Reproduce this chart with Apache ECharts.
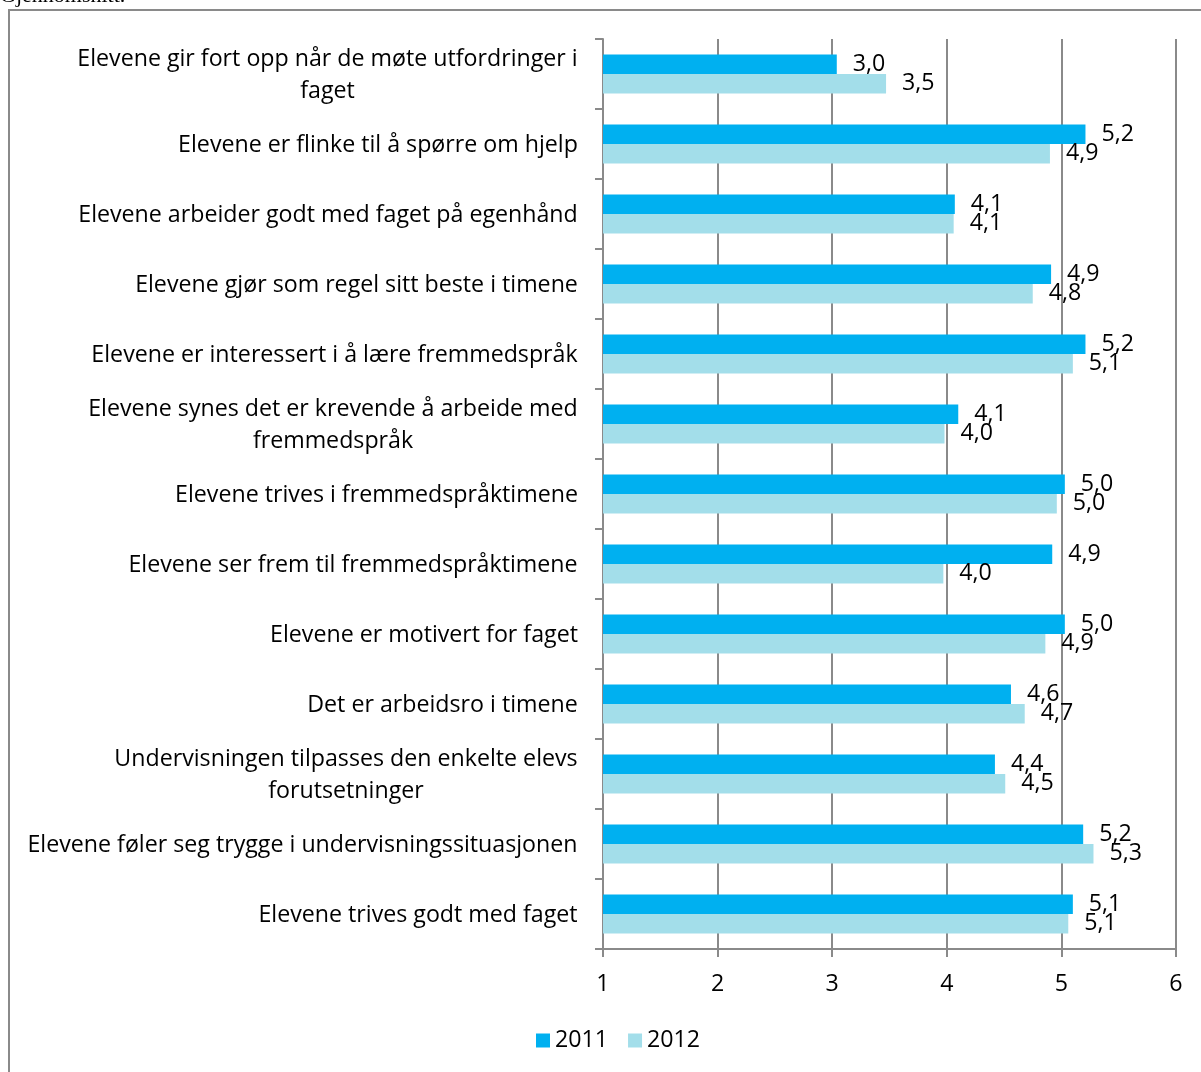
<!DOCTYPE html>
<html lang="no">
<head>
<meta charset="utf-8">
<title>Gjennomsnitt</title>
<script src="https://cdn.jsdelivr.net/npm/echarts@6/dist/echarts.min.js"></script>
<style>
    html, body { margin: 0; padding: 0; background: #fff; }
    #chart { width: 1201px; height: 1072px; }
</style>
</head>
<body>
<div id="chart"></div>
<script>
// categories, top to bottom
var categories = [
    'Elevene gir fort opp når de møte utfordringer i\nfaget',
    'Elevene er flinke til å spørre om hjelp',
    'Elevene arbeider godt med faget på egenhånd',
    'Elevene gjør som regel sitt beste i timene',
    'Elevene er interessert i å lære fremmedspråk',
    'Elevene synes det er krevende å arbeide med\nfremmedspråk',
    'Elevene trives i fremmedspråktimene',
    'Elevene ser frem til fremmedspråktimene',
    'Elevene er motivert for faget',
    'Det er arbeidsro i timene',
    'Undervisningen tilpasses den enkelte elevs\nforutsetninger',
    'Elevene føler seg trygge i undervisningssituasjonen',
    'Elevene trives godt med faget'
];
var values2011 = [3.04, 5.21, 4.07, 4.91, 5.21, 4.10, 5.03, 4.92, 5.03, 4.56, 4.42, 5.19, 5.10];
var values2012 = [3.47, 4.90, 4.06, 4.75, 5.10, 3.98, 4.96, 3.97, 4.86, 4.68, 4.51, 5.28, 5.06];
var seriesNames = ['2011', '2012'];
var xMin = 1, xMax = 6, xStep = 1;

var fontFamily = 'Open Sans';
var fontSize = 23.2;
var gray = '#8a8a8a';

// measure lines so multi-line labels are centred as a block, right aligned to the axis
var ctx = document.createElement('canvas').getContext('2d');
ctx.font = fontSize + 'px "' + fontFamily + '"';
var rich = {};
categories.forEach(function (c, i) {
    var w = Math.max.apply(null, c.split('\n').map(function (l) { return ctx.measureText(l).width; }));
    rich['c' + i] = {
        width: Math.ceil(w), align: 'center', fontSize: fontSize,
        fontFamily: fontFamily, lineHeight: 32, color: '#000',
        padding: [2, 0, 0, 0]
    };
});

function fmt(v) {
    return v.toFixed(1).replace('.', ',');
}

var chart = echarts.init(document.getElementById('chart'));
chart.setOption({
    animation: false,
    backgroundColor: '#fff',
    textStyle: { fontFamily: fontFamily },
    graphic: [
        {
            type: 'rect',
            shape: { x: 9, y: 10, width: 1400, height: 1300 },
            style: { fill: 'none', stroke: gray, lineWidth: 2 }
        },
        {
            type: 'text',
            x: 0, y: 7,
            style: {
                text: 'Gjennomsnitt.', font: '22px "Liberation Serif"',
                fill: '#000', verticalAlign: 'bottom'
            }
        }
    ],
    legend: {
        data: seriesNames,
        left: 531,
        top: 1024,
        itemWidth: 14,
        itemHeight: 14,
        itemGap: 20,
        icon: 'rect',
        textStyle: { fontSize: fontSize, color: '#000', fontFamily: fontFamily }
    },
    grid: { left: 603, right: 25, top: 39, bottom: 123 },
    xAxis: {
        type: 'value',
        min: xMin, max: xMax, interval: xStep,
        axisLine: { show: true, lineStyle: { color: gray, width: 2 } },
        axisTick: { show: true, length: 8, lineStyle: { color: gray, width: 2 } },
        splitLine: { show: true, lineStyle: { color: gray, width: 2 } },
        axisLabel: { margin: 24, fontSize: fontSize, color: '#000', fontFamily: fontFamily }
    },
    yAxis: {
        type: 'category',
        inverse: true,
        data: categories,
        axisLine: { show: true, lineStyle: { color: gray, width: 2 } },
        axisTick: { show: true, length: 8, lineStyle: { color: gray, width: 2 } },
        axisLabel: {
            margin: 25,
            formatter: function (value, idx) {
                return value.split('\n').map(function (l) { return '{c' + idx + '|' + l + '}'; }).join('\n');
            },
            rich: rich
        }
    },
    series: [
        {
            name: seriesNames[0],
            type: 'bar',
            data: values2011,
            barWidth: 19.5,
            barGap: '0%',
            itemStyle: { color: '#00b0f0' },
            label: {
                show: true, position: 'right', distance: 16, padding: [4, 0, 0, 0],
                fontSize: fontSize, color: '#000', fontFamily: fontFamily,
                formatter: function (p) { return fmt(p.value); }
            }
        },
        {
            name: seriesNames[1],
            type: 'bar',
            data: values2012,
            barWidth: 19.5,
            barGap: '0%',
            itemStyle: { color: '#a3deea' },
            label: {
                show: true, position: 'right', distance: 16, padding: [4, 0, 0, 0],
                fontSize: fontSize, color: '#000', fontFamily: fontFamily,
                formatter: function (p) { return fmt(p.value); }
            }
        }
    ]
});
</script>
</body>
</html>
